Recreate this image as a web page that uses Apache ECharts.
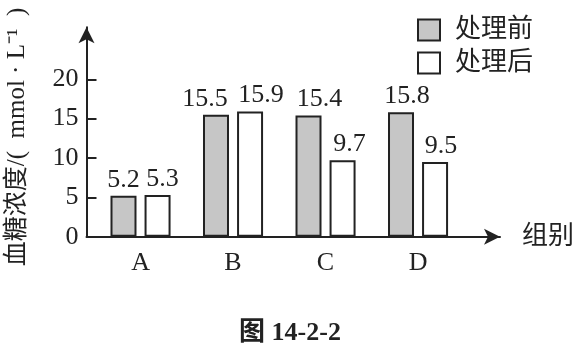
<!DOCTYPE html>
<html>
<head>
<meta charset="utf-8">
<script src="https://cdn.jsdelivr.net/npm/echarts@6/dist/echarts.min.js"></script>
<style>
html,body{margin:0;padding:0;background:#fff;}
#chart{width:580px;height:346px;}
</style>
</head>
<body>
<div id="chart"></div>
<script>
var categories = ['A', 'B', 'C', 'D'];
var seriesNames = ['处理前', '处理后'];
var beforeValues = [5.2, 15.5, 15.4, 15.8];
var afterValues = [5.3, 15.9, 9.7, 9.5];
var yTickValues = [0, 5, 10, 15, 20];
var categoryPositions = [0, 1, 2, 3];

// label nudges (style only, in px)
var beforeLabelShift = [0, -11, 11, 6];
var afterLabelShift = [5, 11, 7, 6];

var FONT = "'Liberation Serif', 'Noto Sans CJK SC', serif";
var INK = '#222';

function items(vals, shifts) {
  return vals.map(function (v, i) {
    return {value: [categoryPositions[i], v], label: {offset: [shifts[i], 0]}};
  });
}

var chart = echarts.init(document.getElementById('chart'), null, {renderer: 'canvas'});
chart.setOption({
  animation: false,
  backgroundColor: '#fff',
  textStyle: {fontFamily: FONT, color: INK},
  title: {
    text: '图 14-2-2',
    left: 'center',
    top: 315,
    textStyle: {fontFamily: FONT, fontSize: 26, fontWeight: 'bold', color: INK}
  },
  legend: {
    orient: 'vertical',
    left: 412,
    top: 12,
    itemWidth: 22,
    itemHeight: 21,
    itemGap: 7,
    icon: 'rect',
    data: seriesNames,
    textStyle: {fontFamily: FONT, fontSize: 26, color: INK, lineHeight: 26, padding: [0, 0, 0, 10]}
  },
  grid: {left: 86.5, right: 80, top: 27.3, bottom: 109.3, containLabel: false, outerBoundsMode: 'none'},
  xAxis: {
    type: 'value',
    min: -0.584,
    max: 3.886,
    name: '组别',
    nameLocation: 'end',
    nameGap: 22,
    nameTextStyle: {fontFamily: FONT, fontSize: 26, color: INK},
    splitLine: {show: false},
    axisLine: {show: true, onZero: false, lineStyle: {color: INK, width: 2}, symbol: ['none', 'arrow'], symbolSize: [12, 16]},
    axisTick: {show: false},
    axisLabel: {
      customValues: categoryPositions,
      formatter: function (v) { return categories[Math.round(v)] || ''; },
      fontFamily: FONT, fontSize: 26, color: INK, margin: 13
    }
  },
  yAxis: {
    type: 'value',
    min: 0,
    max: 26.6,
    name: '血糖浓度/(  mmol · L⁻¹  )',
    nameLocation: 'middle',
    nameRotate: 90,
    nameGap: 57,
    nameTextStyle: {fontFamily: FONT, fontSize: 25, color: INK, padding: [0, 10, 0, 0]},
    splitLine: {show: false},
    axisLine: {show: true, onZero: false, lineStyle: {color: INK, width: 2}, symbol: ['none', 'arrow'], symbolSize: [12, 16]},
    axisTick: {show: true, inside: true, length: 10, customValues: yTickValues, lineStyle: {color: INK, width: 2}},
    axisLabel: {customValues: yTickValues, fontFamily: FONT, fontSize: 26, color: INK, margin: 8}
  },
  series: [
    {
      name: seriesNames[0],
      type: 'bar',
      data: items(beforeValues, beforeLabelShift),
      barWidth: 26,
      barGap: '31%',
      itemStyle: {color: '#c6c6c6', borderColor: INK, borderWidth: 2},
      label: {show: true, position: 'top', distance: 3, fontFamily: FONT, fontSize: 26, color: INK,
        formatter: function (p) { return p.value[1].toFixed(1); }}
    },
    {
      name: seriesNames[1],
      type: 'bar',
      data: items(afterValues, afterLabelShift),
      barWidth: 26,
      barGap: '31%',
      itemStyle: {color: '#ffffff', borderColor: INK, borderWidth: 2},
      label: {show: true, position: 'top', distance: 3, fontFamily: FONT, fontSize: 26, color: INK,
        formatter: function (p) { return p.value[1].toFixed(1); }}
    }
  ]
});
</script>
</body>
</html>
